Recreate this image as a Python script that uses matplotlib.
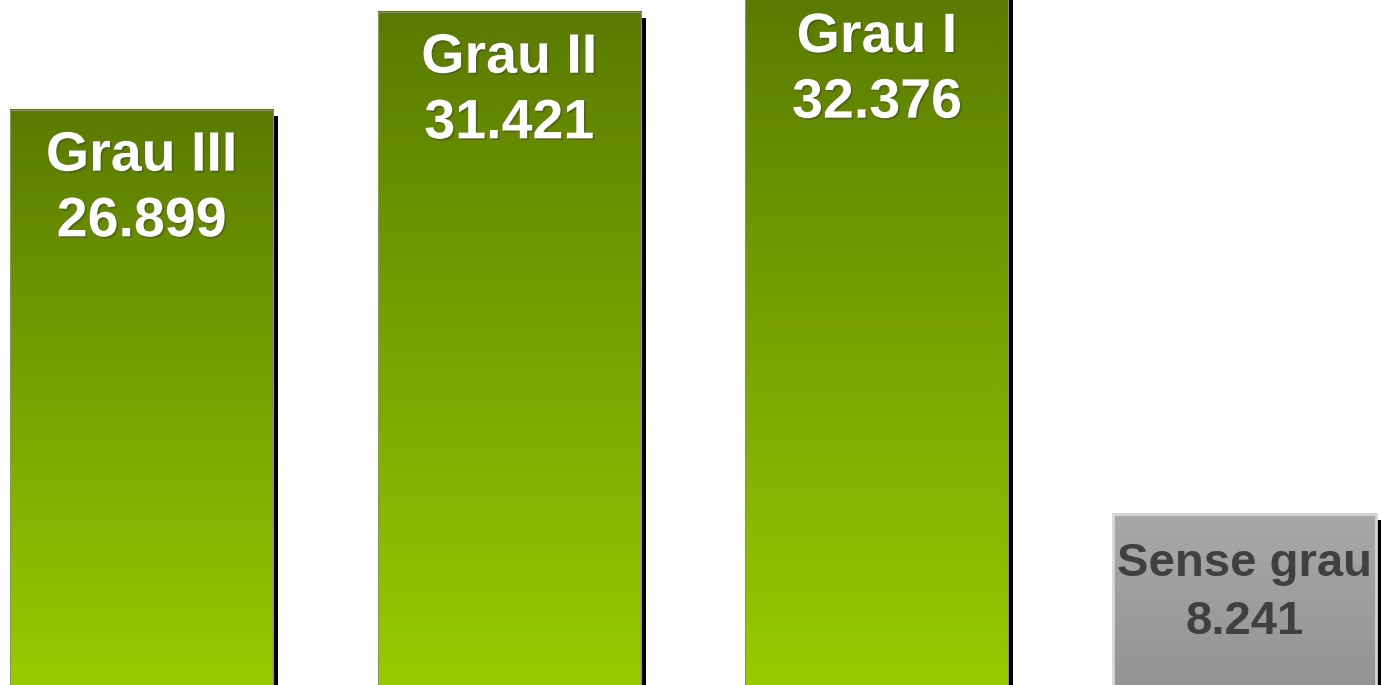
import numpy as np
import matplotlib
matplotlib.use('Agg')
import matplotlib.pyplot as plt
import matplotlib.patheffects as pe
from matplotlib.colors import LinearSegmentedColormap
from matplotlib.patches import Rectangle

# data
categories = ['Grau III', 'Grau II', 'Grau I', 'Sense grau']
values = [26.899, 31.421, 32.376, 8.241]
value_labels = ['26.899', '31.421', '32.376', '8.241']

plt.rcParams['font.family'] = ['Liberation Sans', 'DejaVu Sans']

fig = plt.figure(figsize=(13.81, 6.85), dpi=100)
ax = fig.add_axes([0, 0, 1, 1])
ax.set_axis_off()

x = np.arange(len(values))
width = 0.7157

green = LinearSegmentedColormap.from_list('green', ['#99cc00', '#5a7a00'])
grey = LinearSegmentedColormap.from_list('grey', ['#939393', '#a8a8a8'])
grad = np.linspace(0, 1, 256).reshape(-1, 1)

# bars: the patch only carries the drop shadow, the gradient is an image on top
bars = ax.bar(x, values, width, facecolor='none', edgecolor='none', zorder=1)
for i, b in enumerate(bars):
    b.set_path_effects([pe.SimplePatchShadow(offset=(3.6, -4.3),
                                             shadow_rgbFace='black', alpha=1.0)])
    x0, w, h = b.get_x(), b.get_width(), b.get_height()
    cmap = grey if i == 3 else green
    ax.imshow(grad, cmap=cmap, origin='lower', aspect='auto',
              extent=[x0, x0 + w, 0, h], zorder=2, interpolation='bicubic')
    ec = '#d6d6d6' if i == 3 else '#8c8c8c'
    lw = 2.0 if i == 3 else 0.8
    ax.add_patch(Rectangle((x0, 0), w, h, facecolor='none', edgecolor=ec,
                           linewidth=lw, zorder=3))

    if i == 3:
        # grey bar: smaller dark label
        col, fs, ls, dy = '#404040', 34, 1.41, -20
        effects = []
    else:
        col, fs, ls, dy = 'white', 40, 1.34, -15
        effects = [pe.withSimplePatchShadow(offset=(1.2, -1.2),
                                            shadow_rgbFace='#404040', alpha=0.5)]
    ax.annotate(categories[i] + '\n' + value_labels[i],
                xy=(x[i], values[i]), xytext=(0, dy), textcoords='offset points',
                ha='center', va='top', fontsize=fs, fontweight='bold',
                color=col, linespacing=ls, zorder=4, path_effects=effects,
                annotation_clip=False)

ax.set_xlim(-0.385, 3.371)
ax.set_ylim(0.346, 31.97)

fig.savefig('out.png', dpi=100)
